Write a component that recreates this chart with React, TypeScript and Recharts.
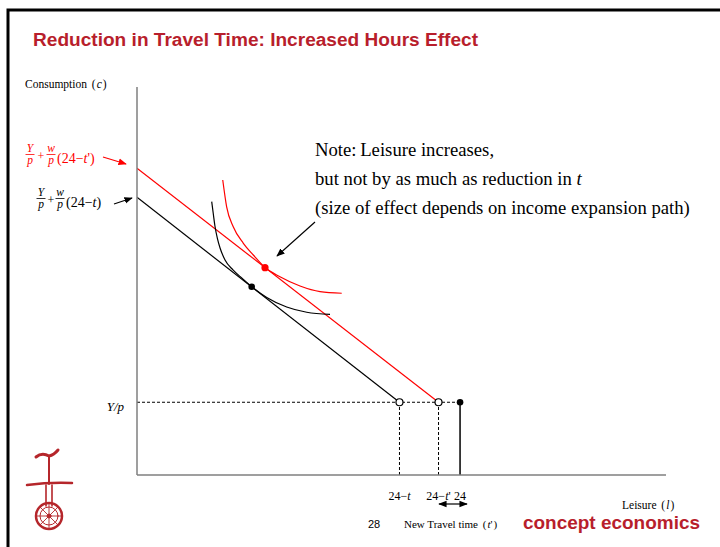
import React from "react"
import { ComposedChart, Line, Scatter, XAxis, YAxis } from "recharts"

// leisure (l) and consumption (c)
const BUDGET_OLD_L = [0, 19.5]
const BUDGET_OLD_C = [20.61, 5.4]
const BUDGET_NEW_L = [0, 22.4]
const BUDGET_NEW_C = [22.77, 5.4]

const IC_OLD_L = [5.55, 5.67, 5.79, 5.98, 6.17, 6.54, 7.13, 7.8, 8.52, 9.64, 11.12, 12.61, 14.34]
const IC_OLD_C = [20.29, 19.37, 18.48, 17.52, 16.85, 15.96, 15.22, 14.61, 13.98, 13.18, 12.47, 12.08, 11.93]
const IC_NEW_L = [6.37, 6.66, 7.15, 7.9, 8.64, 9.51, 10.62, 12.11, 13.6, 15.21]
const IC_NEW_C = [21.9, 19.91, 18.43, 17.2, 16.33, 15.4, 14.72, 14.03, 13.61, 13.49]

const NONLABOUR_L = [0, 24]
const NONLABOUR_C = [5.4, 5.4]
const DROP_OLD_L = [19.5, 19.5]
const DROP_NEW_L = [22.4, 22.4]
const ENDOWMENT_L = [24, 24]
const DROP_C = [0, 5.4]

const OPTIMUM_OLD = [{ l: 8.52, c: 13.97 }]
const OPTIMUM_NEW = [{ l: 9.51, c: 15.39 }]
const CORNERS_OPEN = [{ l: 19.5, c: 5.4 }, { l: 22.4, c: 5.4 }]
const ENDOWMENT = [{ l: 24, c: 5.4 }]

const X_TICKS = [19.5, 22.4, 24]
const X_TICK_LABELS = [["24−", "t", ""], ["24−", "t", "'"], ["24", "", ""]]
const Y_TICKS = [5.4]

const toPoints = (ls: number[], cs: number[]) => ls.map((l, i) => ({ l, c: cs[i] }))

const SERIF = "'Liberation Serif', 'Times New Roman', serif"
const SANS = "'Liberation Sans', Arial, sans-serif"
const SLIDE_RED = "#B81E2C"

const LeisureTick = (props: any) => {
  const { x, y, payload } = props
  const idx = X_TICKS.indexOf(payload.value)
  const parts = X_TICK_LABELS[idx] || [String(payload.value), "", ""]
  return (
    <text x={x} y={y + 17} textAnchor="middle" fontFamily={SERIF} fontSize={12} fill="#000">
      {parts[0]}
      <tspan fontStyle="italic">{parts[1]}</tspan>
      {parts[2]}
    </text>
  )
}

const ConsumptionTick = (props: any) => {
  const { x, y } = props
  return (
    <text x={x - 5} y={y + 9} textAnchor="end" fontFamily={SERIF} fontSize={13} fontStyle="italic" fill="#000">
      Y/p
    </text>
  )
}

const openDot = (p: any) => <circle cx={p.cx} cy={p.cy} r={3.5} fill="#fff" stroke="#000" strokeWidth={1.2} />
const blackDot = (p: any) => <circle cx={p.cx} cy={p.cy} r={3.3} fill="#000" />
const redDot = (p: any) => <circle cx={p.cx} cy={p.cy} r={3.6} fill="#FF0000" />

const Fraction = ({ x, top, bottom, color, y }: any) => (
  <g fill={color}>
    <text x={x} y={y} textAnchor="middle" fontFamily={SERIF} fontSize={11.5} fontStyle="italic">{top}</text>
    <line x1={x - 4.5} x2={x + 4.5} y1={y + 2.5} y2={y + 2.5} stroke={color} strokeWidth={0.8} />
    <text x={x} y={y + 12} textAnchor="middle" fontFamily={SERIF} fontSize={11.5} fontStyle="italic">{bottom}</text>
  </g>
)

const Overlay = () => (
  <svg width={720} height={547} style={{ position: "absolute", left: 0, top: 0, pointerEvents: "none" }}>
    <defs>
      <marker id="headBlack" viewBox="0 0 10 10" refX="9" refY="5" markerWidth="7" markerHeight="7" orient="auto-start-reverse">
        <path d="M0 1 L10 5 L0 9 z" fill="#000" />
      </marker>
      <marker id="headRed" viewBox="0 0 10 10" refX="9" refY="5" markerWidth="7" markerHeight="7" orient="auto">
        <path d="M0 1 L10 5 L0 9 z" fill="#FF0000" />
      </marker>
    </defs>

    {/* slide frame */}
    <path d="M8 547 L8 10 L720 10" fill="none" stroke="#000" strokeWidth={3} />
    <text x={33} y={46} fontFamily={SANS} fontWeight="bold" fontSize={18} fill={SLIDE_RED} textLength={445} lengthAdjust="spacingAndGlyphs">
      Reduction in Travel Time: Increased Hours Effect
    </text>

    <text x={25} y={88} fontFamily={SERIF} fontSize={11.5} fill="#000">
      Consumption <tspan dx={2}>(</tspan><tspan dx={1} fontStyle="italic">c</tspan><tspan dx={1}>)</tspan>
    </text>

    {/* intercept labels */}
    <Fraction x={30} y={152} top="Y" bottom="p" color="#FF0000" />
    <text x={41} y={160} textAnchor="middle" fontFamily={SERIF} fontSize={12} fill="#FF0000">+</text>
    <Fraction x={51} y={152} top="w" bottom="p" color="#FF0000" />
    <text x={57} y={163} fontFamily={SERIF} fontSize={14} fill="#FF0000">
      (24−<tspan fontStyle="italic">t</tspan>')
    </text>
    <line x1={103} y1={157} x2={126} y2={164} stroke="#FF0000" strokeWidth={1.2} markerEnd="url(#headRed)" />

    <Fraction x={41} y={196} top="Y" bottom="p" color="#000" />
    <text x={51} y={204} textAnchor="middle" fontFamily={SERIF} fontSize={12} fill="#000">+</text>
    <Fraction x={60} y={196} top="w" bottom="p" color="#000" />
    <text x={66} y={207} fontFamily={SERIF} fontSize={14} fill="#000">
      (24−<tspan fontStyle="italic">t</tspan>)
    </text>
    <line x1={114} y1={204} x2={132} y2={198} stroke="#000" strokeWidth={1.2} markerEnd="url(#headBlack)" />

    {/* note */}
    <g fontFamily={SERIF} fontSize={18.7} fill="#000">
      <text x={315} y={156}>Note:<tspan dx={-1}> Leisure increases,</tspan></text>
      <text x={315} y={185}>but not by as much as reduction in <tspan fontStyle="italic">t</tspan></text>
      <text x={315} y={214}>(size of effect depends on income expansion path)</text>
    </g>
    <line x1={315} y1={222} x2={277} y2={256} stroke="#000" strokeWidth={1.2} markerEnd="url(#headBlack)" />

    {/* t' span arrow */}
    <line x1={439} y1={504} x2={467} y2={504} stroke="#000" strokeWidth={1.2}
      markerStart="url(#headBlack)" markerEnd="url(#headBlack)" />

    <text x={622} y={509} fontFamily={SERIF} fontSize={11.5} fill="#000">
      Leisure <tspan dx={2}>(</tspan><tspan dx={1} fontStyle="italic">l</tspan><tspan dx={1}>)</tspan>
    </text>

    {/* footer */}
    <text x={368} y={528} fontFamily={SANS} fontSize={11} fill="#000">28</text>
    <text x={404} y={528} fontFamily={SERIF} fontSize={11} fill="#000">
      New Travel time <tspan dx={2}>(</tspan><tspan dx={1} fontStyle="italic">t</tspan>'<tspan dx={1}>)</tspan>
    </text>
    <text x={523} y={529} fontFamily={SANS} fontWeight="bold" fontSize={19} fill={SLIDE_RED} textLength={177} lengthAdjust="spacingAndGlyphs">
      concept economics
    </text>

    {/* unicycle logo */}
    <g stroke="#B5262B" fill="none" strokeLinecap="round">
      <path d="M36 457 Q42 452 49 456 Q54 455 58 450" strokeWidth={3} />
      <path d="M49 457 L49 484" strokeWidth={2} />
      <path d="M27 485 Q50 482 72 483" strokeWidth={2.5} />
      <path d="M46 485 L46 506 M52 485 L52 506" strokeWidth={1.6} />
      <circle cx={49} cy={516} r={13} strokeWidth={2.5} />
      <circle cx={49} cy={516} r={9} strokeWidth={1} />
      <path d="M49 503 L49 529 M36 516 L62 516 M40 507 L58 525 M58 507 L40 525" strokeWidth={0.9} />
      <circle cx={49} cy={516} r={2} fill="#B5262B" />
    </g>
  </svg>
)

export default function App() {
  return (
    <div style={{ position: "absolute", left: 0, top: 0, width: 720, height: 547, background: "#fff" }}>
      <ComposedChart width={720} height={547} margin={{ top: 87, right: 54, bottom: 0, left: 0 }}>
        <XAxis
          type="number"
          dataKey="l"
          domain={[0, 39.3]}
          ticks={X_TICKS}
          interval={0}
          tick={<LeisureTick />}
          tickLine={false}
          axisLine={{ stroke: "#7f7f7f", strokeWidth: 1.5 }}
          height={72}
          allowDataOverflow
        />
        <YAxis
          type="number"
          dataKey="c"
          domain={[0, 28.8]}
          ticks={Y_TICKS}
          interval={0}
          tick={<ConsumptionTick />}
          tickLine={false}
          axisLine={{ stroke: "#7f7f7f", strokeWidth: 1.5 }}
          width={137}
          allowDataOverflow
        />
        <Line data={toPoints(NONLABOUR_L, NONLABOUR_C)} dataKey="c" stroke="#000" strokeWidth={1} strokeDasharray="3 2" dot={false} isAnimationActive={false} />
        <Line data={toPoints(DROP_OLD_L, DROP_C)} dataKey="c" stroke="#000" strokeWidth={1} strokeDasharray="3 2" dot={false} isAnimationActive={false} />
        <Line data={toPoints(DROP_NEW_L, DROP_C)} dataKey="c" stroke="#000" strokeWidth={1} strokeDasharray="3 2" dot={false} isAnimationActive={false} />
        <Line data={toPoints(ENDOWMENT_L, DROP_C)} dataKey="c" stroke="#000" strokeWidth={1.5} dot={false} isAnimationActive={false} />
        <Line data={toPoints(BUDGET_OLD_L, BUDGET_OLD_C)} dataKey="c" stroke="#000" strokeWidth={1.2} dot={false} isAnimationActive={false} />
        <Line data={toPoints(BUDGET_NEW_L, BUDGET_NEW_C)} dataKey="c" stroke="#FF0000" strokeWidth={1.2} dot={false} isAnimationActive={false} />
        <Line data={toPoints(IC_OLD_L, IC_OLD_C)} type="monotone" dataKey="c" stroke="#000" strokeWidth={1.2} dot={false} isAnimationActive={false} />
        <Line data={toPoints(IC_NEW_L, IC_NEW_C)} type="monotone" dataKey="c" stroke="#FF0000" strokeWidth={1.2} dot={false} isAnimationActive={false} />
        <Scatter data={CORNERS_OPEN} dataKey="c" shape={openDot} isAnimationActive={false} />
        <Scatter data={ENDOWMENT} dataKey="c" shape={blackDot} isAnimationActive={false} />
        <Scatter data={OPTIMUM_OLD} dataKey="c" shape={blackDot} isAnimationActive={false} />
        <Scatter data={OPTIMUM_NEW} dataKey="c" shape={redDot} isAnimationActive={false} />
      </ComposedChart>
      <Overlay />
    </div>
  )
}
